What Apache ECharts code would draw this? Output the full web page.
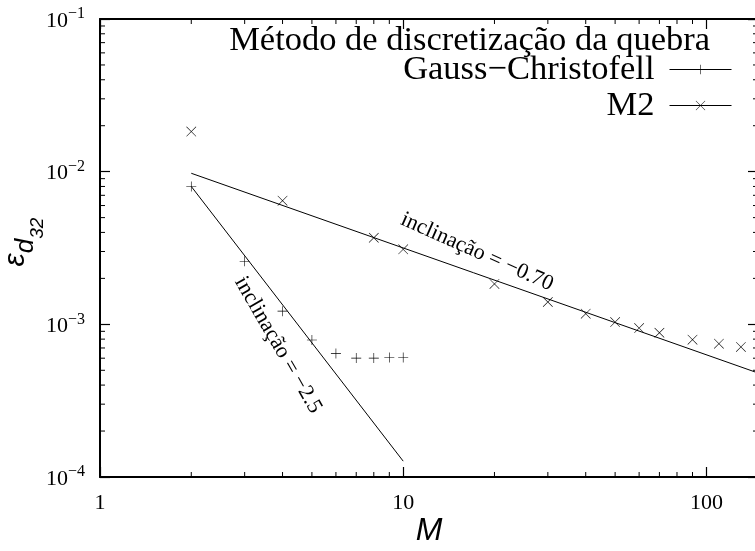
<!DOCTYPE html>
<html>
<head>
<meta charset="utf-8">
<script src="https://cdn.jsdelivr.net/npm/echarts@6/dist/echarts.min.js"></script>
<style>
  html, body { margin: 0; padding: 0; background: #fff; }
  #chart { width: 755px; height: 551px; }
</style>
</head>
<body>
<div id="chart"></div>
<script>
// ---- data ----
const gcX = [2, 3, 4, 5, 6, 7, 8, 9, 10];
const gcY = [0.0080, 0.00259, 0.00122, 0.00079, 0.000643, 0.000601, 0.000601, 0.000607, 0.000607];
const m2X = [2, 4, 8, 10, 20, 30, 40, 50, 60, 70, 90, 110, 130];
const m2Y = [0.0183, 0.00646, 0.00369, 0.0031, 0.00184, 0.00140, 0.001175, 0.001035, 0.000945, 0.000881, 0.000794, 0.000747, 0.000711];
// fitted lines (end points)
const gcFitX = [2, 10];
const gcFitY = [0.0080, 0.000127];
const m2FitX = [2, 148];
const m2FitY = [0.00976, 0.00048];
// axes
const xTicks = [1, 10, 100];
const xTickLabels = ['1', '10', '100'];
const yTicks = [1e-4, 1e-3, 1e-2, 1e-1];
const yTickExp = ['\u22124', '\u22123', '\u22122', '\u22121'];
const xMinor = [2, 3, 4, 5, 6, 7, 8, 9, 20, 30, 40, 50, 60, 70, 80, 90];
const yMinor = [2e-4, 3e-4, 4e-4, 5e-4, 6e-4, 7e-4, 8e-4, 9e-4,
                2e-3, 3e-3, 4e-3, 5e-3, 6e-3, 7e-3, 8e-3, 9e-3,
                2e-2, 3e-2, 4e-2, 5e-2, 6e-2, 7e-2, 8e-2, 9e-2];
const legendTitle = 'Método de discretização da quebra';
const seriesNames = ['Gauss\u2212Christofell', 'M2'];
const slopeLabels = ['inclinação = \u22120.70', 'inclinação = \u22122.5'];

const X_MIN = 1, X_MAX = 148, Y_MIN = 1e-4, Y_MAX = 1e-1;
const SERIF = '"Liberation Serif", "Times New Roman", serif';
const SANS = '"Liberation Sans", Arial, sans-serif';

const plusPath = 'path://M-0.6,-10 L0.6,-10 L0.6,-0.6 L10,-0.6 L10,0.6 L0.6,0.6 L0.6,10 L-0.6,10 L-0.6,0.6 L-10,0.6 L-10,-0.6 L-0.6,-0.6 Z';
const crossPath = 'path://M-10,-9.2 L-9.2,-10 L10,9.2 L9.2,10 Z M9.2,-10 L10,-9.2 L-9.2,10 L-10,9.2 Z';

const zip = (xs, ys) => xs.map((x, i) => [x, ys[i]]);
const isTick = (v, ticks) => ticks.findIndex(t => Math.abs(Math.log10(t) - Math.log10(v)) < 1e-6);

const chart = echarts.init(document.getElementById('chart'), null, { renderer: 'canvas' });

const axisCommon = {
  type: 'log', logBase: 10,
  nameMoveOverlap: false,
  axisLine: { show: true, lineStyle: { color: '#000', width: 2 } },
  axisTick: { show: true, inside: true, length: 10, lineStyle: { color: '#000', width: 1.2 } },
  splitLine: { show: false },
  minorTick: { show: false }
};

const option = {
  animation: false,
  backgroundColor: '#fff',
  title: {
    text: legendTitle,
    right: 45, top: 23, padding: 0,
    textStyle: { fontFamily: SERIF, fontSize: 34.5, fontWeight: 'normal', color: '#000' }
  },
  legend: {
    data: seriesNames,
    orient: 'vertical',
    align: 'right',
    right: 23, top: 52, padding: 0,
    itemGap: 1,
    itemWidth: 62, itemHeight: 12,
    selectedMode: false,
    textStyle: { fontFamily: SERIF, fontSize: 34.5, color: '#000', padding: [0, 10, 0, 0] },
    lineStyle: { color: '#000', width: 1, opacity: 1 },
    itemStyle: { color: '#000' }
  },
  grid: { left: 100, right: -3, top: 19, bottom: 74, containLabel: false, outerBoundsMode: 'none' },
  xAxis: [
    Object.assign({}, axisCommon, {
      position: 'bottom', min: X_MIN, max: X_MAX,
      name: 'M', nameLocation: 'middle', nameGap: 38,
      nameTextStyle: { fontFamily: SANS, fontStyle: 'italic', fontSize: 32, color: '#000' },
      axisLabel: {
        show: true, margin: 15, color: '#000', fontFamily: SERIF, fontSize: 22,
        showMaxLabel: false,
        formatter: v => { const i = isTick(v, xTicks); return i < 0 ? '' : xTickLabels[i]; }
      }
    }),
    Object.assign({}, axisCommon, {
      position: 'top', min: X_MIN, max: X_MAX,
      axisLabel: { show: false }
    })
  ],
  yAxis: [
    Object.assign({}, axisCommon, {
      position: 'left', min: Y_MIN, max: Y_MAX,
      name: '{e|ε}{d|d}{n|32}', nameLocation: 'middle', nameGap: 53, nameRotate: 90,
      nameTextStyle: {
        color: '#000',
        rich: {
          e: { fontFamily: SANS, fontStyle: 'italic', fontSize: 30, color: '#000', verticalAlign: 'bottom', padding: [0, 0, 16, 12] },
          d: { fontFamily: SANS, fontStyle: 'italic', fontSize: 26, color: '#000', verticalAlign: 'bottom', padding: [0, 0, 8, 0] },
          n: { fontFamily: SANS, fontStyle: 'italic', fontSize: 19, color: '#000', verticalAlign: 'bottom', padding: [0, 0, 0, 0] }
        }
      },
      axisLabel: {
        show: true, margin: 15, color: '#000',
        formatter: v => { const i = isTick(v, yTicks); return i < 0 ? '' : '{b|10}{s|' + yTickExp[i] + '}'; },
        rich: {
          b: { fontFamily: SERIF, fontSize: 22, color: '#000', verticalAlign: 'bottom' },
          s: { fontFamily: SERIF, fontSize: 16, color: '#000', verticalAlign: 'bottom', padding: [0, 0, 10, 0] }
        }
      }
    }),
    Object.assign({}, axisCommon, {
      position: 'right', min: Y_MIN, max: Y_MAX,
      axisLabel: { show: false }
    })
  ],
  series: [
    {
      type: 'line', name: 'gcFit', data: zip(gcFitX, gcFitY),
      symbol: 'none', silent: true,
      lineStyle: { color: '#000', width: 1 }
    },
    {
      type: 'line', name: 'm2Fit', data: zip(m2FitX, m2FitY),
      symbol: 'none', silent: true,
      lineStyle: { color: '#000', width: 1 }
    },
    {
      type: 'line', name: seriesNames[0], data: zip(gcX, gcY),
      symbol: plusPath, symbolSize: 10, showSymbol: true, showAllSymbol: true,
      itemStyle: { color: '#000' },
      lineStyle: { color: '#000', width: 1, opacity: 0 }
    },
    {
      type: 'line', name: seriesNames[1], data: zip(m2X, m2Y),
      symbol: crossPath, symbolSize: 10, showSymbol: true, showAllSymbol: true,
      itemStyle: { color: '#000' },
      lineStyle: { color: '#000', width: 1, opacity: 0 }
    },
    {
      type: 'custom', name: 'xMinor', silent: true,
      data: xMinor.map(v => [v, Y_MIN]),
      renderItem: (params, api) => {
        const cs = params.coordSys;
        const x = api.coord([api.value(0), Y_MIN])[0];
        const st = { stroke: '#000', lineWidth: 1 };
        return { type: 'group', children: [
          { type: 'line', shape: { x1: x, y1: cs.y + cs.height, x2: x, y2: cs.y + cs.height - 5 }, style: st },
          { type: 'line', shape: { x1: x, y1: cs.y, x2: x, y2: cs.y + 5 }, style: st }
        ]};
      }
    },
    {
      type: 'custom', name: 'yMinor', silent: true,
      data: yMinor.map(v => [X_MIN, v]),
      renderItem: (params, api) => {
        const cs = params.coordSys;
        const y = api.coord([X_MIN, api.value(1)])[1];
        const st = { stroke: '#000', lineWidth: 1 };
        return { type: 'group', children: [
          { type: 'line', shape: { x1: cs.x, y1: y, x2: cs.x + 5, y2: y }, style: st },
          { type: 'line', shape: { x1: cs.x + cs.width, y1: y, x2: cs.x + cs.width - 5, y2: y }, style: st }
        ]};
      }
    }
  ],
  graphic: [
    {
      type: 'text', x: 477, y: 252, rotation: -24 * Math.PI / 180, silent: true,
      style: { text: slopeLabels[0], fontFamily: SERIF, fontSize: 22, fill: '#000', textAlign: 'center', textVerticalAlign: 'middle' }
    },
    {
      type: 'text', x: 278, y: 345, rotation: -60 * Math.PI / 180, silent: true,
      style: { text: slopeLabels[1], fontFamily: SERIF, fontSize: 22, fill: '#000', textAlign: 'center', textVerticalAlign: 'middle' }
    }
  ]
};

chart.setOption(option);
</script>
</body>
</html>
